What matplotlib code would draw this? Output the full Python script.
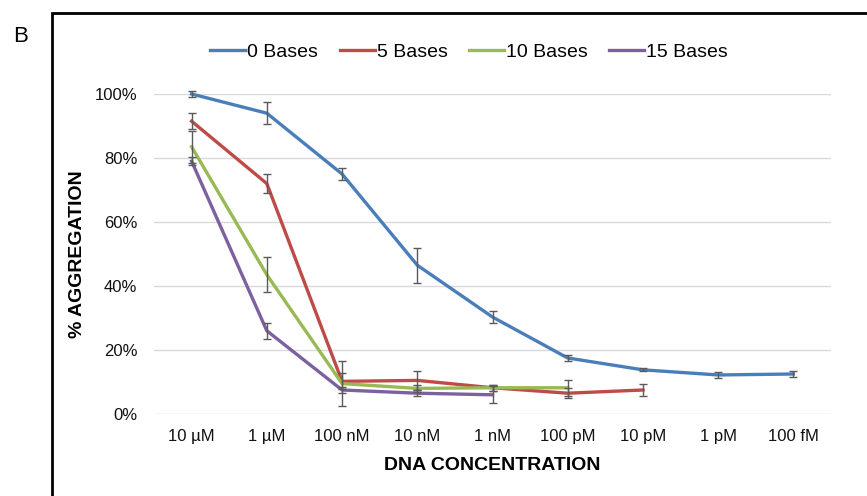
import matplotlib
matplotlib.use("Agg")
import matplotlib.pyplot as plt
import numpy as np
from matplotlib.patches import Rectangle

plt.rcParams['font.family'] = ['Liberation Sans', 'DejaVu Sans']

concs = ['10 µM', '1 µM', '100 nM', '10 nM', '1 nM', '100 pM', '10 pM', '1 pM', '100 fM']

# values (% aggregation) with error bars
b0 = [100, 94, 75, 46.5, 30.3, 17.5, 13.8, 12.2, 12.5]
b0_err = [1, 3.5, 2, 5.5, 2, 1, 0.5, 1, 1]
b5 = [91.5, 72, 10.2, 10.5, 8.2, 6.5, 7.5]
b5_err = [2.5, 3, 2.5, 3, 1, 1.5, 2]
b10 = [83.5, 43.5, 9.5, 8, 8.2, 8.2]
b10_err = [5, 5.5, 7, 1, 1, 2.5]
b15 = [79, 26, 7.5, 6.5, 6]
b15_err = [1.2, 2.5, 1, 1, 2.7]

series = [
    ('0 Bases', b0, b0_err, '#4A7EBB'),
    ('5 Bases', b5, b5_err, '#BE4B48'),
    ('10 Bases', b10, b10_err, '#98B954'),
    ('15 Bases', b15, b15_err, '#7D60A0'),
]

fig = plt.figure(figsize=(8.67, 4.96), dpi=100)
ax = fig.add_axes([154/867, 1-414/496, (831-154)/867, (414-94)/496])

for name, vals, err, col in series:
    x = np.arange(len(vals))
    ax.plot(x, vals, color=col, lw=2.4, label=name, clip_on=False, zorder=3)
    ax.errorbar(x, vals, yerr=err, fmt='none', ecolor='#5a5a5a', elinewidth=1,
                capsize=3, capthick=1, clip_on=False, zorder=4)

ax.set_xlim(-0.5, len(concs)-0.5)
ax.set_ylim(0, 100)
ax.set_xticks(range(len(concs)))
ax.set_xticklabels(concs)
ax.set_yticks(range(0, 101, 20))
ax.set_yticklabels([f'{v}%' for v in range(0, 101, 20)])
ax.tick_params(length=0, labelsize=12, colors='#111111', pad=11)
ax.tick_params(axis='y', pad=12)
ax.grid(axis='y', color='#d9d9d9', lw=1)
ax.set_axisbelow(True)
for s in ax.spines.values():
    s.set_visible(False)

ax.set_xlabel('DNA CONCENTRATION', fontsize=14, fontweight='bold', labelpad=9)
ax.set_ylabel('% AGGREGATION', fontsize=14, fontweight='bold', labelpad=6)

fig.legend(loc='center', bbox_to_anchor=(469/867, 1-52/496), ncol=4, frameon=False,
           fontsize=14, handlelength=1.8, handletextpad=0.1, columnspacing=1.1)

# frame round the panel
fig.patches.append(Rectangle((52/867, -0.05), 1.0, 1-13/496+0.05, transform=fig.transFigure,
                             fill=False, edgecolor='black', lw=2))
fig.text(13/867, 1-36/496, 'B', fontsize=16, va='center', ha='left')

fig.savefig('out.png', dpi=100)
